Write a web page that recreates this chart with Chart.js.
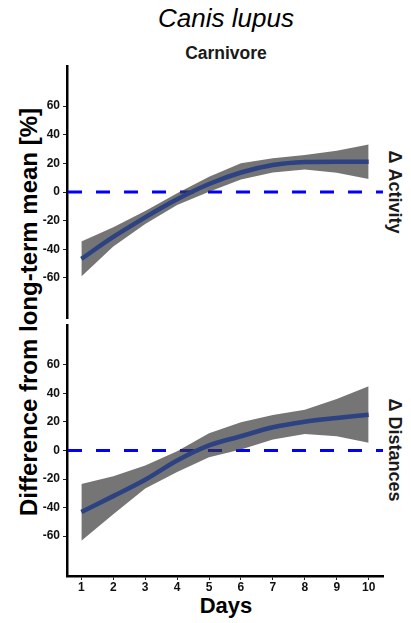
<!DOCTYPE html>
<html>
<head>
<meta charset="utf-8">
<script src="https://cdn.jsdelivr.net/npm/chart.js@4.4.1/dist/chart.umd.min.js"></script>
<style>
  html, body { margin: 0; padding: 0; background: #fff; }
  #wrap { position: relative; width: 411px; height: 623px; overflow: hidden; font-family: "Liberation Sans", Arial, sans-serif; color: #000; }
  canvas { position: absolute; left: 0; }
  .txt { position: absolute; white-space: nowrap; line-height: 1; }
  .rot-l { transform: translate(-50%, -50%) rotate(-90deg); }
  .rot-r { transform: translate(-50%, -50%) rotate(90deg); }
</style>
</head>
<body>
<div id="wrap">
  <div class="txt" style="left:0;width:452px;text-align:center;top:5px;font-size:26px;font-style:italic;">Canis lupus</div>
  <div class="txt" style="left:0;width:452px;text-align:center;top:45px;font-size:17.5px;font-weight:bold;color:#1a1a1a;">Carnivore</div>
  <div class="txt rot-l" style="left:29px;top:312px;font-size:24px;font-weight:bold;">Difference from long-term mean [%]</div>
  <div class="txt rot-r" style="left:395px;top:192px;font-size:18px;font-weight:bold;color:#1a1a1a;">Δ Activity</div>
  <div class="txt rot-r" style="left:395px;top:450px;font-size:18px;font-weight:bold;color:#1a1a1a;">Δ Distances</div>
  <div class="txt" style="left:0;width:452px;text-align:center;top:595px;font-size:22px;font-weight:bold;">Days</div>
  <canvas id="top" width="411" height="262" style="top:60px;"></canvas>
  <canvas id="bottom" width="411" height="301" style="top:322px;"></canvas>
</div>
<script>
// Days after the event
const DAYS = [1, 2, 3, 4, 5, 6, 7, 8, 9, 10];
const DAY_TICKS = [1, 2, 3, 4, 5, 6, 7, 8, 9, 10];
const Y_TICKS = [-60, -40, -20, 0, 20, 40, 60];
const REF_VALUE = 0;

// Δ Activity: fitted difference and confidence band (%)
const ACT_FIT = [-46.7, -31.4, -17.7, -5.1, 5.6, 13.6, 18.8, 20.9, 21.2, 21.2];
const ACT_LO  = [-59.0, -38.1, -22.3, -9.1, 0.2, 8.8, 13.7, 15.8, 13.5, 9.1];
const ACT_HI  = [-34.6, -24.6, -13.2, -0.9, 10.7, 20.0, 23.5, 25.8, 28.8, 33.2];

// Δ Distances: fitted difference and confidence band (%)
const DIST_FIT = [-43.2, -32.0, -20.5, -7.0, 3.6, 10.0, 16.3, 20.2, 22.8, 25.1];
const DIST_LO  = [-63.3, -44.7, -26.7, -15.1, -4.7, 0.7, 7.7, 11.6, 10.0, 5.4];
const DIST_HI  = [-23.5, -18.1, -10.5, -0.5, 12.1, 19.8, 24.9, 28.6, 36.1, 45.1];

const FONT = '"Liberation Sans", Arial, sans-serif';
const pts = (ys) => DAYS.map((d, i) => ({ x: d, y: ys[i] }));

// dashed horizontal reference line at zero, under the band
const refLine = {
  id: 'refLine',
  beforeDatasetsDraw(chart) {
    const { ctx, chartArea, scales } = chart;
    const y = scales.y.getPixelForValue(REF_VALUE);
    ctx.save();
    ctx.strokeStyle = '#0000FF';
    ctx.lineWidth = 3;
    ctx.setLineDash([14, 14]);
    ctx.beginPath();
    ctx.moveTo(chartArea.left + 1, y);
    ctx.lineTo(chartArea.right, y);
    ctx.stroke();
    ctx.restore();
  }
};

function makePanel(id, fit, lo, hi, showX, padding) {
  return new Chart(document.getElementById(id), {
    type: 'line',
    data: {
      datasets: [
        { data: pts(hi), borderWidth: 0, pointRadius: 0, tension: 0,
          backgroundColor: 'rgba(55,55,55,0.69)', fill: '+1', order: 2 },
        { data: pts(lo), borderWidth: 0, pointRadius: 0, tension: 0,
          backgroundColor: 'rgba(55,55,55,0.69)', fill: false, order: 2 },
        { data: pts(fit), borderColor: '#2C4282', borderWidth: 4.5, pointRadius: 0,
          cubicInterpolationMode: 'monotone', fill: false, order: 1, borderCapStyle: 'butt' }
      ]
    },
    options: {
      responsive: false,
      animation: false,
      layout: { padding: padding },
      plugins: { legend: { display: false }, tooltip: { enabled: false } },
      scales: {
        x: {
          type: 'linear', min: 0.55, max: 10.45,
          display: showX,
          afterBuildTicks: (s) => { s.ticks = DAY_TICKS.map(v => ({ value: v })); },
          afterFit: (s) => {
            s.height = showX ? 40 : 0;
            s.paddingLeft = 0; s.paddingRight = 0;
          },
          grid: { drawOnChartArea: false, drawTicks: true, tickLength: 4, color: '#222', lineWidth: 1 },
          border: { display: true, color: '#000', width: 2.5 },
          ticks: { padding: 0, autoSkip: false, maxRotation: 0, color: '#111',
                   font: { family: FONT, size: 12, weight: 'bold' },
                   callback: (v) => String(v) }
        },
        y: {
          type: 'linear', min: -88, max: 88,
          afterBuildTicks: (s) => { s.ticks = Y_TICKS.map(v => ({ value: v })); },
          afterFit: (s) => {
            s.width = 67;
            s.paddingTop = 0; s.paddingBottom = 0;
          },
          grid: { drawOnChartArea: false, drawTicks: true, tickLength: 4, color: '#222', lineWidth: 1 },
          border: { display: true, color: '#000', width: 2.5 },
          ticks: { padding: 3, color: '#111',
                   font: { family: FONT, size: 12, weight: 'bold' },
                   callback: (v) => String(v) }
        }
      }
    },
    plugins: [refLine]
  });
}

makePanel('top', ACT_FIT, ACT_LO, ACT_HI, false, { left: 0, right: 28, top: 6, bottom: 4 });
makePanel('bottom', DIST_FIT, DIST_LO, DIST_HI, true, { left: 0, right: 28, top: 3, bottom: 7 });
</script>
</body>
</html>
